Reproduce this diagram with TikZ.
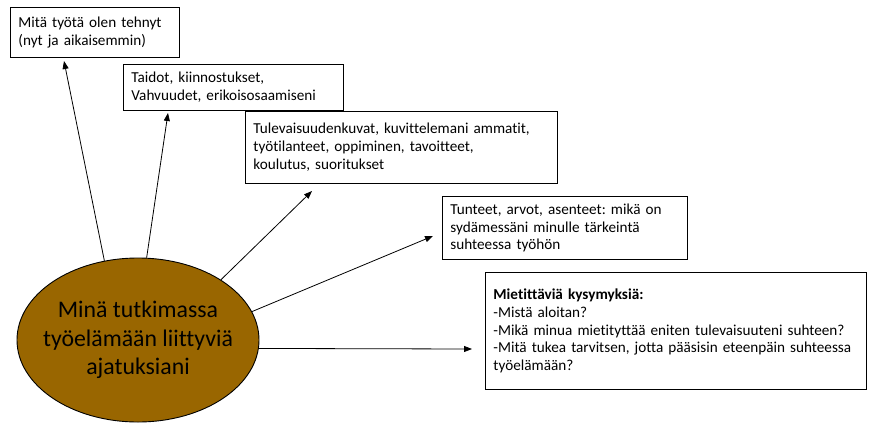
\documentclass[tikz,border=0pt]{standalone}
\usepackage{fontspec}
\setmainfont[RawFeature={-liga;-clig;-dlig}]{Carlito}
\usetikzlibrary{shapes.geometric,arrows.meta}
\definecolor{egg}{RGB}{153,102,0}
\frenchspacing
\begin{document}
\begin{tikzpicture}[x=1pt,y=-1pt,
  box/.style={draw, line width=0.9pt, rectangle, anchor=north west, align=left,
    inner xsep=8pt, inner ysep=0pt, font=\fontsize{15.2}{17.8}\selectfont},
  arr/.style={line width=0.8pt, -{Triangle[length=8pt,width=6pt]}}]
\useasboundingbox (0,0) rectangle (869,423);
\node[box, text width=153pt, minimum height=50pt] (b1) at (10,7)
  {Mitä työtä olen tehnyt\\(nyt ja aikaisemmin)};
\node[box, text width=204pt, minimum height=46pt] (b2) at (123,64)
  {Taidot, kiinnostukset,\\Vahvuudet, erikoisosaamiseni};
\node[box, text width=296pt, minimum height=72pt] (b3) at (245,111)
  {Tulevaisuudenkuvat, kuvittelemani ammatit,\\työtilanteet, oppiminen, tavoitteet,\\koulutus, suoritukset};
\node[box, text width=229pt, minimum height=63pt] (b4) at (442,196)
  {Tunteet, arvot, asenteet: mikä on\\sydämessäni minulle tärkeintä\\suhteessa työhön};
\node[box, text width=365pt, minimum height=117pt] (b5) at (485,272)
  {\textbf{Mietittäviä kysymyksiä:}\\-Mistä aloitan?\\-Mikä minua mietityttää eniten tulevaisuuteni suhteen?\\-Mitä tukea tarvitsen, jotta pääsisin eteenpäin suhteessa\\työelämään?};
\node[ellipse, draw, line width=0.9pt, fill=egg, minimum width=242pt, minimum height=164pt,
  inner sep=0pt] (me) at (138,340) {};
\node[align=center, inner sep=0pt, font=\fontsize{23.8}{28.3}\selectfont] (metxt) at (me.center)
  {Minä tutkimassa\\työelämään liittyviä\\ajatuksiani};
\coordinate (t1) at (64,61);
\coordinate (t2) at (168,113);
\coordinate (t3) at (312,191);
\coordinate (t4) at (433,236);
\coordinate (t5) at (472,349);
\draw[arr] (me.113) -- (t1);
\draw[arr] (me.84) -- (t2);
\draw[arr] (me.36) -- (t3);
\draw[arr] (me.14) -- (t4);
\draw[arr] (me.-4) -- (t5);
\end{tikzpicture}
\end{document}
